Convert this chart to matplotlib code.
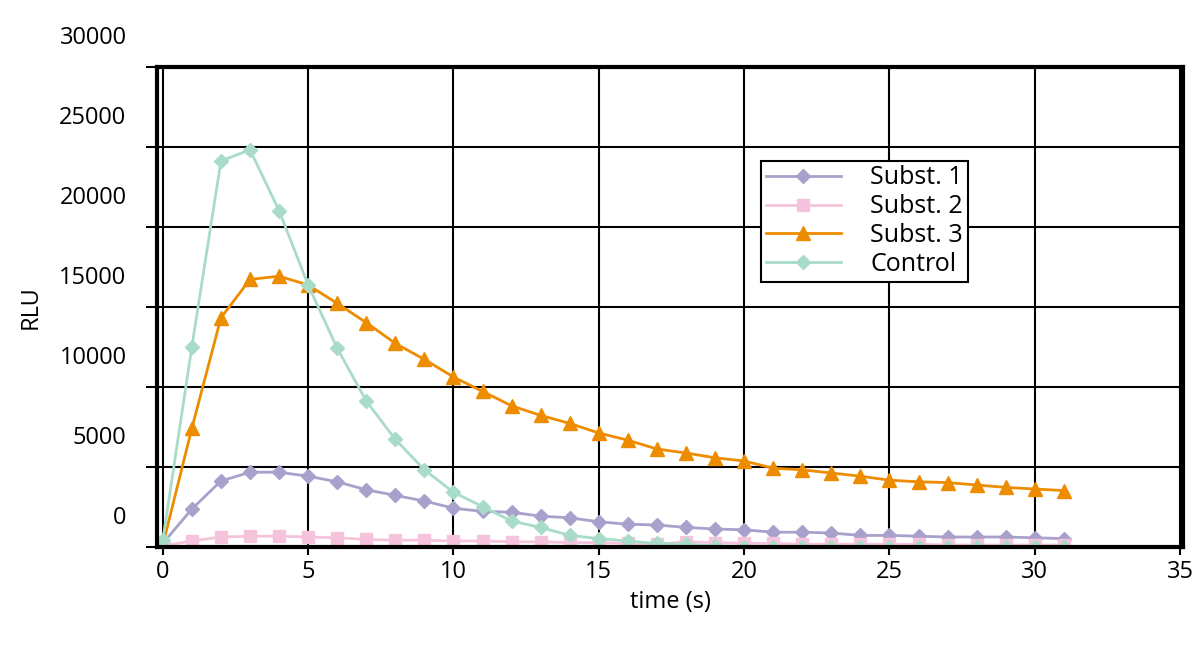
import matplotlib.pyplot as plt
import matplotlib.transforms as mtransforms
import numpy as np

t = list(range(32))
control = [-1700, 10400, 22000, 22700, 18900, 14250, 10300, 7000, 4600, 2700, 1300, 400,
           -500, -900, -1400, -1600, -1750, -1900, -1950, -2050, -2100, -2100, -2100, -2100,
           -2100, -2100, -2100, -2100, -2100, -2100, -2100, -2100]
subst3 = [-2000, 5300, 12200, 14600, 14800, 14250, 13100, 11900, 10600, 9600, 8500, 7600,
          6700, 6100, 5600, 5000, 4550, 4000, 3750, 3450, 3250, 2800, 2700, 2500, 2300,
          2050, 1950, 1900, 1750, 1600, 1500, 1400]
subst1 = [-1900, 250, 2000, 2550, 2550, 2300, 1950, 1450, 1100, 750, 300, 100, 50, -200,
          -300, -550, -700, -750, -900, -1000, -1050, -1200, -1200, -1250, -1400, -1400,
          -1450, -1500, -1500, -1500, -1550, -1600]
subst2 = [-2050, -1750, -1500, -1450, -1450, -1500, -1550, -1650, -1700, -1700, -1750,
          -1750, -1800, -1800, -1850, -1850, -1900, -1950, -1800, -1850, -1900, -1900,
          -1950, -1950, -1950, -1950, -1950, -2000, -2000, -2000, -2000, -2000]
ytick_labels = ['0', '5000', '10000', '15000', '20000', '25000', '30000']

plt.rcParams['font.family'] = 'Open Sans'
fig = plt.figure(figsize=(12, 6.62), dpi=100)
ax = fig.add_axes([157/1200, 1-547/662, (1183-157)/1200, (547-67)/662])

ax.plot(t, subst1, color='#a9a0cc', marker='D', markersize=7, lw=2, label='Subst. 1')
ax.plot(t, subst2, color='#f5c4dc', marker='s', markersize=9, lw=2, label='Subst. 2')
ax.plot(t, subst3, color='#ee8c00', marker='^', markersize=10, lw=2, label='Subst. 3')
ax.plot(t, control, color='#a8dcc8', marker='D', markersize=7, lw=2, label='Control')

ybot = -2125
ax.set_xticks(range(0, 36, 5))
ax.set_yticks(ybot + np.arange(0, 30001, 5000))
ax.set_yticklabels(ytick_labels)
ax.set_xlim(-0.2, 35.1)
ax.set_ylim(ybot, ybot + 30000)
ax.tick_params(axis='y', length=8, width=1.5, labelsize=17, pad=14)
ax.tick_params(axis='x', length=6, width=1.5, labelsize=17)
ax.grid(True, color='black', lw=1.5)
shift = mtransforms.ScaledTranslation(0, 0.32, fig.dpi_scale_trans)
for lab in ax.get_yticklabels():
    lab.set_transform(lab.get_transform() + shift)
for s in ax.spines.values():
    s.set_linewidth(3)
ax.set_xlabel('time (s)', fontsize=17)
ax.set_ylabel('RLU', fontsize=17, labelpad=12)

leg = ax.legend(loc='upper left', bbox_to_anchor=((748-157)/1026, (547-148)/480),
                fontsize=18, fancybox=False, edgecolor='black', framealpha=1,
                handlelength=3, borderpad=0.2, labelspacing=0.15, handletextpad=1.2)
leg.get_frame().set_linewidth(1.5)

fig.savefig('out.png', dpi=100)
